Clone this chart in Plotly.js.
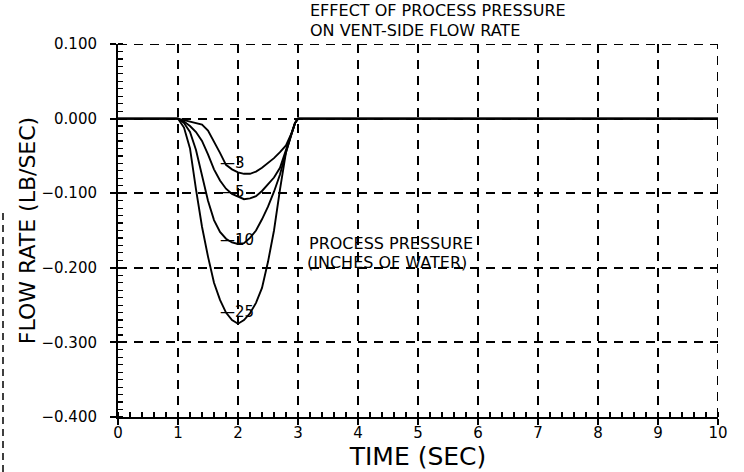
<!DOCTYPE html>
<html>
<head>
<meta charset="utf-8">
<script src="https://cdn.plot.ly/plotly-3.0.1.min.js"></script>
<style>html,body{margin:0;padding:0;background:#fff;}#chart{width:744px;height:472px;}</style>
</head>
<body>
<div id="chart"></div>
<script>
// Time axis (sec)
const time = [0, 1.0, 1.1, 1.2, 1.3, 1.4, 1.5, 1.6, 1.7, 1.8, 1.9, 2.0, 2.1, 2.2, 2.3, 2.4, 2.5, 2.6, 2.7, 2.8, 2.9, 2.95, 3.0, 10];
// Flow rate (lb/sec) for each process pressure (inches of water)
const flow3  = [0, 0, -0.002, -0.004, -0.006, -0.008, -0.016, -0.030, -0.046, -0.062, -0.068, -0.072, -0.074, -0.074, -0.071, -0.066, -0.060, -0.053, -0.045, -0.036, -0.018, -0.006, 0, 0];
const flow5  = [0, 0, -0.004, -0.010, -0.018, -0.030, -0.048, -0.068, -0.083, -0.094, -0.101, -0.105, -0.108, -0.107, -0.104, -0.097, -0.088, -0.079, -0.066, -0.042, -0.018, -0.006, 0, 0];
const flow10 = [0, 0, -0.006, -0.018, -0.042, -0.078, -0.110, -0.136, -0.152, -0.161, -0.166, -0.168, -0.167, -0.160, -0.150, -0.135, -0.118, -0.098, -0.075, -0.045, -0.018, -0.006, 0, 0];
const flow25 = [0, 0, -0.012, -0.040, -0.095, -0.145, -0.185, -0.220, -0.243, -0.260, -0.270, -0.275, -0.270, -0.261, -0.247, -0.227, -0.192, -0.150, -0.095, -0.045, -0.018, -0.006, 0, 0];
const pressures = ["3", "5", "10", "25"];
// label anchor points (time, flow) for the curve labels
const labelX = [1.667, 1.667, 1.667, 1.667];
const labelY = [-0.059, -0.098, -0.163, -0.259];

const xTickVals = [0, 1, 2, 3, 4, 5, 6, 7, 8, 9, 10];
const xTickText = ["0", "1", "2", "3", "4", "5", "6", "7", "8", "9", "10"];
const yTickVals = [0.1, 0, -0.1, -0.2, -0.3, -0.4];
const yTickText = ["0.100", "0.000", "\u22120.100", "\u22120.200", "\u22120.300", "\u22120.400"];

const series = [flow3, flow5, flow10, flow25];
const FONT = "DejaVu Sans, Liberation Sans, sans-serif";

const traces = series.map((ys, i) => ({
  x: time, y: ys, type: "scatter", mode: "lines",
  name: pressures[i],
  line: {color: "#000", width: 1.9},
  showlegend: false, hoverinfo: "skip"
}));

const annotations = pressures.map((p, i) => ({
  x: labelX[i], y: labelY[i], xref: "x", yref: "y",
  text: "\u2014" + p, showarrow: false, xanchor: "left", yanchor: "middle",
  font: {family: FONT, size: 15, color: "#000"}
}));

function px2x(px) { return (px - 118) / 600; }
function py2y(py) { return (417 - py) / 373; }

annotations.push(
  {xref: "paper", yref: "paper", x: px2x(308), y: py2y(11), xanchor: "left", yanchor: "middle",
   text: "EFFECT OF PROCESS PRESSURE", showarrow: false, font: {family: FONT, size: 16, color: "#000"}},
  {xref: "paper", yref: "paper", x: px2x(308), y: py2y(30.5), xanchor: "left", yanchor: "middle",
   text: "ON VENT-SIDE FLOW RATE", showarrow: false, font: {family: FONT, size: 16, color: "#000"}},
  {xref: "paper", yref: "paper", x: px2x(307), y: py2y(243), xanchor: "left", yanchor: "middle",
   text: "PROCESS PRESSURE", showarrow: false, font: {family: FONT, size: 16, color: "#000"}},
  {xref: "paper", yref: "paper", x: px2x(305), y: py2y(262.5), xanchor: "left", yanchor: "middle",
   text: "(INCHES OF WATER)", showarrow: false, font: {family: FONT, size: 16, color: "#000"}}
);

const dashGrid = "9px,7px";

const layout = {
  width: 744, height: 472,
  margin: {l: 118, r: 26, t: 44, b: 55},
  paper_bgcolor: "#fff", plot_bgcolor: "#fff",
  showlegend: false,
  xaxis: {
    range: [0, 10], tickmode: "array", tickvals: xTickVals, ticktext: xTickText,
    showline: true, linecolor: "#000", linewidth: 2, mirror: false,
    ticks: "outside", ticklen: 6, tickwidth: 2, tickcolor: "#000",
    showgrid: true, gridcolor: "#000", gridwidth: 2, griddash: dashGrid,
    zeroline: false,
    minor: {tick0: 0, dtick: 0.2, ticks: "inside", ticklen: 5, tickwidth: 1.2, tickcolor: "#000", showgrid: false},
    tickfont: {family: FONT, size: 15, color: "#000"},
    ticklabelstandoff: -5,
    title: {text: "TIME (SEC)", font: {family: FONT, size: 25, color: "#000"}, standoff: 2}
  },
  yaxis: {
    range: [-0.4, 0.1], tickmode: "array", tickvals: yTickVals, ticktext: yTickText,
    showline: true, linecolor: "#000", linewidth: 2, mirror: false,
    ticks: "outside", ticklen: 6, tickwidth: 2, tickcolor: "#000",
    showgrid: true, gridcolor: "#000", gridwidth: 2, griddash: dashGrid,
    zeroline: false,
    minor: {tick0: 0, dtick: 0.01, ticks: "inside", ticklen: 5, tickwidth: 1.2, tickcolor: "#000", showgrid: false},
    tickfont: {family: FONT, size: 15, color: "#000"},
    ticklabelstandoff: 10,
    title: {text: "FLOW RATE (LB/SEC)", font: {family: FONT, size: 22, color: "#000"}, standoff: 0}
  },
  shapes: [
    {type: "line", xref: "x", yref: "y", x0: 0, x1: 10, y0: 0.1, y1: 0.1,
     line: {color: "#000", width: 2, dash: dashGrid}},
    {type: "line", xref: "x", yref: "y", x0: 10, x1: 10, y0: -0.4, y1: 0.1,
     line: {color: "#000", width: 2, dash: dashGrid}},
    {type: "line", xref: "paper", yref: "paper", x0: px2x(3), x1: px2x(3), y0: py2y(472), y1: py2y(210),
     line: {color: "#000", width: 1.5, dash: "7px,5px"}}
  ],
  annotations: annotations
};

Plotly.newPlot("chart", traces, layout, {staticPlot: true, displayModeBar: false});
</script>
</body>
</html>
